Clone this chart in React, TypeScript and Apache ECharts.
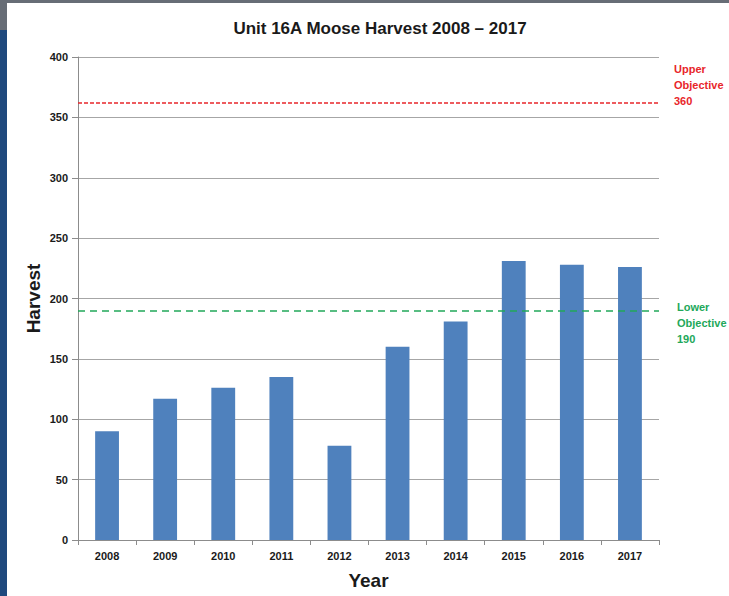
import React, { useEffect, useRef } from "react";
import * as echarts from "echarts";

const years = ["2008", "2009", "2010", "2011", "2012", "2013", "2014", "2015", "2016", "2017"];
const harvest = [90, 117, 126, 135, 78, 160, 181, 231, 228, 226];
const upperObjective = 362;
const lowerObjective = 190;
const upperLabel = ["Upper", "Objective", "360"];
const lowerLabel = ["Lower", "Objective", "190"];

const FONT = "'Liberation Sans', sans-serif";

export default function App() {
  const ref = useRef<HTMLDivElement>(null);
  useEffect(() => {
    if (!ref.current) return;
    const chart = echarts.init(ref.current, undefined, { renderer: "svg" });
    chart.setOption({
      animation: false,
      backgroundColor: "transparent",
      textStyle: { fontFamily: FONT },
      title: {
        text: "Unit 16A Moose Harvest 2008 \u2013 2017",
        left: 375,
        top: 15,
        textAlign: "center",
        textStyle: { fontSize: 17, fontWeight: "bold", color: "#1a1a1a", fontFamily: FONT },
      },
      grid: { left: 78, top: 57, width: 581, height: 483, containLabel: false, outerBoundsMode: "none" },
      xAxis: {
        type: "category",
        data: years,
        name: "Year",
        nameLocation: "middle",
        nameGap: 31,
        nameMoveOverlap: false,
        nameTextStyle: { fontSize: 19, fontWeight: "bold", color: "#1a1a1a", fontFamily: FONT },
        axisLine: { lineStyle: { color: "#8c8c8c", width: 1 } },
        axisTick: { show: true, alignWithLabel: false, length: 5, lineStyle: { color: "#8c8c8c" } },
        axisLabel: { fontSize: 11, fontWeight: "bold", color: "#1a1a1a", margin: 10, fontFamily: FONT },
      },
      yAxis: {
        type: "value",
        min: 0,
        max: 400,
        interval: 50,
        name: "Harvest",
        nameLocation: "middle",
        nameGap: 35,
        nameRotate: 90,
        nameMoveOverlap: false,
        nameTextStyle: { fontSize: 19, fontWeight: "bold", color: "#1a1a1a", fontFamily: FONT },
        axisLine: { show: true, lineStyle: { color: "#8c8c8c", width: 1 } },
        axisTick: { show: true, length: 6, lineStyle: { color: "#8c8c8c" } },
        axisLabel: { fontSize: 11, fontWeight: "bold", color: "#1a1a1a", margin: 10, fontFamily: FONT },
        splitLine: { show: true, lineStyle: { color: "#a6a6a6", width: 1 } },
      },
      series: [
        {
          type: "bar",
          data: harvest,
          barWidth: "41%",
          itemStyle: { color: "#4f81bd" },
          markLine: {
            silent: true,
            symbol: "none",
            label: { show: false },
            data: [
              {
                yAxis: upperObjective,
                lineStyle: { color: "#e8262a", type: [4, 2], width: 1.6 },
              },
              {
                yAxis: lowerObjective,
                lineStyle: { color: "#22a85a", type: [7, 5], width: 1.6 },
              },
            ],
          },
        },
      ],
      graphic: [
        {
          type: "text",
          left: 674,
          top: 61,
          style: {
            text: upperLabel.join("\n"),
            fill: "#e8262a",
            font: `bold 11px ${FONT}`,
            lineHeight: 16,
          },
        },
        {
          type: "text",
          left: 677,
          top: 299,
          style: {
            text: lowerLabel.join("\n"),
            fill: "#22a85a",
            font: `bold 11px ${FONT}`,
            lineHeight: 16,
          },
        },
      ],
    });
    return () => chart.dispose();
  }, []);

  return (
    <div style={{ position: "fixed", left: 0, top: 0, width: 729, height: 596, background: "#ffffff", overflow: "hidden" }}>
      <div style={{ position: "absolute", left: 0, top: 0, width: 729, height: 3, background: "#676d76" }} />
      <div style={{ position: "absolute", left: 0, top: 0, width: 7, height: 30, background: "#676d76" }} />
      <div style={{ position: "absolute", left: 0, top: 30, width: 7, height: 566, background: "#1f497d" }} />
      <div ref={ref} style={{ position: "absolute", left: 0, top: 0, width: 729, height: 596 }} />
    </div>
  );
}
